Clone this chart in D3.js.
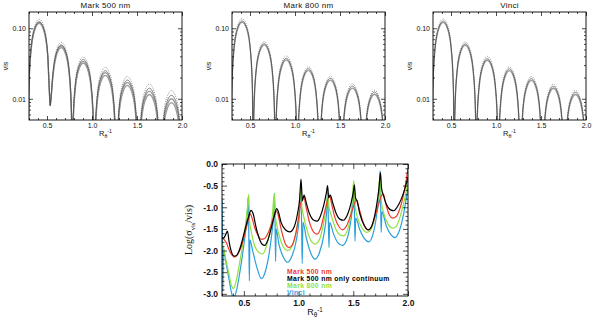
<!DOCTYPE html>
<html><head><meta charset="utf-8">
<script src="https://cdn.jsdelivr.net/npm/d3@7"></script>
<style>body{margin:0;background:#fff}svg{display:block}</style>
</head><body>
<svg id="c" width="600" height="319"></svg>
<script>
// ---------- DATA ----------
const panelTitles = ["Mark 500 nm", "Mark 800 nm", "Vinci"];
const topXTicks = [0.5, 1.0, 1.5, 2.0];
const topXTickLabels = ["0.5", "1.0", "1.5", "2.0"];
const topYTicks = [0.01, 0.1];
const topYTickLabels = ["0.01", "0.10"];
const topYMinor = [0.006,0.007,0.008,0.009,0.02,0.03,0.04,0.05,0.06,0.07,0.08,0.09];
const xMinor = [0.3,0.4,0.6,0.7,0.8,0.9,1.1,1.2,1.3,1.4,1.6,1.7,1.8,1.9];

// spatial frequency samples of the visibility curves
const visX = [0.290,
 0.297,0.319,0.364,0.413,0.462,0.506,0.528, 0.535,
 0.542,0.564,0.609,0.658,0.707,0.751,0.773, 0.780,
 0.787,0.809,0.854,0.903,0.952,0.996,1.018, 1.025,
 1.032,1.054,1.099,1.148,1.197,1.241,1.263, 1.270,
 1.277,1.299,1.344,1.393,1.442,1.486,1.508, 1.515,
 1.522,1.544,1.589,1.638,1.687,1.731,1.753, 1.760,
 1.767,1.789,1.834,1.883,1.932,1.976,1.998, 2.005];

// Mark 500 nm
const m500Dotted = [0.001,
 0.0126,0.0493,0.1084,0.134,0.1084,0.0493,0.0126, 0.008,
 0.0095,0.0232,0.0510,0.063,0.0510,0.0232,0.0059, 0.001,
 0.0037,0.0144,0.0316,0.039,0.0316,0.0144,0.0037, 0.001,
 0.0026,0.0103,0.0227,0.028,0.0227,0.0103,0.0026, 0.001,
 0.0019,0.0076,0.0167,0.0207,0.0167,0.0076,0.0019, 0.001,
 0.0015,0.0060,0.0131,0.0162,0.0131,0.0060,0.0015, 0.001,
 0.0012,0.0048,0.0106,0.0131,0.0106,0.0048,0.0012, 0.001];
const m500Solid = [0.001,
 0.0117,0.0456,0.1003,0.124,0.1003,0.0456,0.0117, 0.008,
 0.0095,0.0213,0.0469,0.058,0.0469,0.0213,0.0055, 0.001,
 0.0034,0.0132,0.0291,0.036,0.0291,0.0132,0.0034, 0.001,
 0.0024,0.0092,0.0202,0.025,0.0202,0.0092,0.0024, 0.001,
 0.0017,0.0068,0.0149,0.0184,0.0149,0.0068,0.0017, 0.001,
 0.0013,0.0052,0.0114,0.0141,0.0114,0.0052,0.0013, 0.001,
 0.0011,0.0041,0.0091,0.0112,0.0091,0.0041,0.0011, 0.001];
const m500GrayA = [0.001,
 0.0114,0.0445,0.0979,0.121,0.0979,0.0445,0.0114, 0.008,
 0.0094,0.0206,0.0453,0.056,0.0453,0.0206,0.0053, 0.001,
 0.0032,0.0125,0.0275,0.034,0.0275,0.0125,0.0032, 0.001,
 0.0022,0.0086,0.0190,0.0235,0.0190,0.0086,0.0022, 0.001,
 0.0016,0.0063,0.0138,0.0170,0.0138,0.0063,0.0016, 0.001,
 0.0012,0.0047,0.0104,0.0128,0.0104,0.0047,0.0012, 0.001,
 0.0009,0.0037,0.0081,0.0100,0.0081,0.0037,0.0009, 0.001];
const m500GrayB = [0.001,
 0.0110,0.0431,0.0947,0.117,0.0947,0.0431,0.0110, 0.008,
 0.0093,0.0195,0.0429,0.053,0.0429,0.0195,0.0050, 0.001,
 0.0030,0.0118,0.0259,0.032,0.0259,0.0118,0.0030, 0.001,
 0.0020,0.0079,0.0174,0.0215,0.0174,0.0079,0.0020, 0.001,
 0.0015,0.0057,0.0125,0.0155,0.0125,0.0057,0.0015, 0.001,
 0.0011,0.0042,0.0093,0.0115,0.0093,0.0042,0.0011, 0.001,
 0.0008,0.0032,0.0071,0.0088,0.0071,0.0032,0.0008, 0.001];

// Mark 800 nm
const m800Dotted = [0.001,
 0.0129,0.0504,0.1108,0.137,0.1108,0.0504,0.0129, 0.001,
 0.0061,0.0238,0.0523,0.0646,0.0523,0.0238,0.0061, 0.001,
 0.0038,0.0149,0.0327,0.0404,0.0327,0.0149,0.0038, 0.001,
 0.0027,0.0105,0.0231,0.0285,0.0231,0.0105,0.0027, 0.001,
 0.0020,0.0077,0.0168,0.0208,0.0168,0.0077,0.0020, 0.001,
 0.0015,0.0060,0.0131,0.0162,0.0131,0.0060,0.0015, 0.001,
 0.0012,0.0049,0.0107,0.0132,0.0107,0.0049,0.0012, 0.001];
const m800Solid = [0.001,
 0.0119,0.0467,0.1027,0.127,0.1027,0.0467,0.0119, 0.001,
 0.0057,0.0223,0.0489,0.0605,0.0489,0.0223,0.0057, 0.001,
 0.0035,0.0138,0.0303,0.0374,0.0303,0.0138,0.0035, 0.001,
 0.0025,0.0098,0.0216,0.0267,0.0216,0.0098,0.0025, 0.001,
 0.0018,0.0072,0.0158,0.0195,0.0158,0.0072,0.0018, 0.001,
 0.0014,0.0056,0.0122,0.0151,0.0122,0.0056,0.0014, 0.001,
 0.0012,0.0046,0.0100,0.0124,0.0100,0.0046,0.0012, 0.001];
const m800Gray = [0.001,
 0.0115,0.0449,0.0987,0.122,0.0987,0.0449,0.0115, 0.001,
 0.0055,0.0213,0.0469,0.058,0.0469,0.0213,0.0055, 0.001,
 0.0033,0.0131,0.0287,0.0355,0.0287,0.0131,0.0033, 0.001,
 0.0024,0.0093,0.0205,0.0253,0.0205,0.0093,0.0024, 0.001,
 0.0017,0.0068,0.0149,0.0184,0.0149,0.0068,0.0017, 0.001,
 0.0013,0.0052,0.0115,0.0142,0.0115,0.0052,0.0013, 0.001,
 0.0011,0.0043,0.0094,0.0116,0.0094,0.0043,0.0011, 0.001];

// Vinci
const vinciDotted = [0.001,
 0.0127,0.0497,0.1092,0.135,0.1092,0.0497,0.0127, 0.001,
 0.0060,0.0236,0.0518,0.064,0.0518,0.0236,0.0060, 0.001,
 0.0038,0.0147,0.0324,0.040,0.0324,0.0147,0.0038, 0.001,
 0.0027,0.0104,0.0229,0.0283,0.0229,0.0104,0.0027, 0.001,
 0.0019,0.0076,0.0167,0.0207,0.0167,0.0076,0.0019, 0.001,
 0.0015,0.0059,0.0130,0.0161,0.0130,0.0059,0.0015, 0.001,
 0.0012,0.0048,0.0106,0.0131,0.0106,0.0048,0.0012, 0.001];
const vinciSolid = [0.001,
 0.0118,0.0464,0.1019,0.126,0.1019,0.0464,0.0118, 0.001,
 0.0056,0.0221,0.0485,0.060,0.0485,0.0221,0.0056, 0.001,
 0.0035,0.0136,0.0299,0.037,0.0299,0.0136,0.0035, 0.001,
 0.0025,0.0098,0.0214,0.0265,0.0214,0.0098,0.0025, 0.001,
 0.0018,0.0071,0.0156,0.0193,0.0156,0.0071,0.0018, 0.001,
 0.0014,0.0055,0.0121,0.0150,0.0121,0.0055,0.0014, 0.001,
 0.0012,0.0045,0.0100,0.0123,0.0100,0.0045,0.0012, 0.001];
const vinciGray = [0.001,
 0.0114,0.0445,0.0979,0.121,0.0979,0.0445,0.0114, 0.001,
 0.0054,0.0212,0.0465,0.0575,0.0465,0.0212,0.0054, 0.001,
 0.0033,0.0130,0.0285,0.0352,0.0285,0.0130,0.0033, 0.001,
 0.0024,0.0092,0.0202,0.0250,0.0202,0.0092,0.0024, 0.001,
 0.0017,0.0067,0.0147,0.0182,0.0147,0.0067,0.0017, 0.001,
 0.0013,0.0052,0.0114,0.0141,0.0114,0.0052,0.0013, 0.001,
 0.0011,0.0042,0.0093,0.0115,0.0093,0.0042,0.0011, 0.001];

// bottom panel: log(sigma_vis/vis)
const errYTicks = [-3.0,-2.5,-2.0,-1.5,-1.0,-0.5,0.0];
const errYTickLabels = ["-3.0","-2.5","-2.0","-1.5","-1.0","-0.5","0.0"];
const errYMinor = [-2.9,-2.8,-2.7,-2.6,-2.4,-2.3,-2.2,-2.1,-1.9,-1.8,-1.7,-1.6,-1.4,-1.3,-1.2,-1.1,-0.9,-0.8,-0.7,-0.6,-0.4,-0.3,-0.2,-0.1];
const legendLabels = ["Mark 500 nm", "Mark 500 nm only continuum", "Mark 800 nm", "Vinci"];

const errMark500 = [[0.300,-1.70],[0.320,-1.75],[0.340,-1.82],[0.360,-1.95],[0.390,-2.10],[0.415,-2.15],[0.440,-2.10],[0.470,-1.95],[0.500,-1.70],[0.525,-1.45],[0.545,-1.25],[0.560,-1.15],[0.575,-1.25],[0.600,-1.48],[0.630,-1.65],[0.660,-1.74],[0.690,-1.72],[0.720,-1.60],[0.750,-1.40],[0.775,-1.20],[0.795,-1.08],[0.810,-1.15],[0.840,-1.50],[0.880,-1.85],[0.910,-1.93],[0.940,-1.88],[0.970,-1.65],[1.000,-1.25],[1.020,-0.90],[1.035,-0.80],[1.048,-0.75],[1.065,-0.95],[1.100,-1.35],[1.140,-1.58],[1.170,-1.62],[1.200,-1.50],[1.230,-1.20],[1.260,-0.88],[1.283,-0.72],[1.300,-0.90],[1.330,-1.22],[1.370,-1.45],[1.400,-1.52],[1.440,-1.42],[1.480,-1.15],[1.510,-0.92],[1.530,-0.83],[1.550,-1.00],[1.590,-1.35],[1.630,-1.52],[1.660,-1.48],[1.700,-1.20],[1.735,-0.90],[1.760,-0.72],[1.775,-0.70],[1.795,-0.90],[1.830,-1.18],[1.860,-1.25],[1.890,-1.22],[1.930,-1.00],[1.960,-0.70],[1.985,-0.35],[2.000,-0.10]];
const errMark500Cont = [[0.300,-1.72],[0.320,-1.70],[0.335,-1.62],[0.350,-1.55],[0.365,-1.80],[0.385,-2.02],[0.410,-2.13],[0.430,-2.12],[0.460,-1.98],[0.490,-1.72],[0.520,-1.42],[0.545,-1.20],[0.565,-1.07],[0.585,-1.15],[0.610,-1.45],[0.640,-1.72],[0.670,-1.86],[0.690,-1.88],[0.720,-1.75],[0.750,-1.48],[0.780,-1.18],[0.800,-1.03],[0.815,-1.10],[0.840,-1.35],[0.880,-1.52],[0.920,-1.57],[0.960,-1.45],[0.990,-1.15],[1.010,-0.80],[1.022,-0.35],[1.035,-0.85],[1.050,-0.72],[1.070,-0.90],[1.100,-1.15],[1.140,-1.30],[1.170,-1.32],[1.200,-1.20],[1.230,-0.95],[1.255,-0.65],[1.265,-0.50],[1.275,-0.78],[1.290,-0.72],[1.310,-0.88],[1.340,-1.12],[1.380,-1.28],[1.410,-1.30],[1.450,-1.15],[1.480,-0.90],[1.500,-0.65],[1.510,-0.48],[1.520,-0.78],[1.535,-0.86],[1.560,-1.15],[1.600,-1.42],[1.640,-1.52],[1.680,-1.35],[1.710,-1.00],[1.735,-0.55],[1.748,-0.20],[1.758,-0.55],[1.775,-0.72],[1.800,-0.92],[1.840,-1.06],[1.870,-1.08],[1.900,-1.00],[1.940,-0.80],[1.970,-0.58],[1.990,-0.40],[2.000,-0.30]];
const errMark800 = [[0.300,-1.85],[0.310,-1.90],[0.330,-2.15],[0.360,-2.50],[0.385,-2.80],[0.405,-2.88],[0.430,-2.70],[0.460,-2.30],[0.490,-1.85],[0.515,-1.40],[0.535,-0.95],[0.545,-0.70],[0.552,-1.30],[0.570,-1.60],[0.600,-1.90],[0.640,-2.05],[0.670,-2.08],[0.700,-1.95],[0.730,-1.65],[0.760,-1.20],[0.778,-0.68],[0.785,-1.15],[0.800,-1.40],[0.830,-1.72],[0.870,-1.95],[0.900,-2.00],[0.940,-1.90],[0.980,-1.55],[1.005,-1.10],[1.022,-0.55],[1.030,-1.00],[1.045,-1.20],[1.080,-1.55],[1.120,-1.80],[1.150,-1.85],[1.190,-1.75],[1.230,-1.35],[1.258,-0.90],[1.268,-0.68],[1.275,-0.95],[1.300,-1.20],[1.340,-1.50],[1.380,-1.64],[1.410,-1.66],[1.450,-1.50],[1.485,-1.00],[1.505,-0.38],[1.515,-0.95],[1.540,-1.25],[1.580,-1.48],[1.620,-1.58],[1.650,-1.55],[1.690,-1.30],[1.725,-0.85],[1.745,-0.25],[1.755,-0.85],[1.780,-1.15],[1.820,-1.40],[1.860,-1.48],[1.890,-1.45],[1.930,-1.20],[1.970,-0.80],[2.000,-0.40]];
const errVinci = [[0.300,-0.80],[0.304,-1.60],[0.308,-2.95],[0.313,-1.95],[0.330,-2.20],[0.360,-2.60],[0.385,-2.95],[0.405,-3.10],[0.430,-2.95],[0.460,-2.55],[0.490,-2.05],[0.515,-1.55],[0.532,-1.10],[0.540,-0.76],[0.545,-1.60],[0.550,-2.70],[0.555,-1.75],[0.580,-2.00],[0.620,-2.40],[0.660,-2.65],[0.700,-2.45],[0.735,-2.00],[0.760,-1.50],[0.775,-1.05],[0.780,-0.68],[0.785,-1.40],[0.790,-2.25],[0.795,-1.50],[0.820,-1.85],[0.860,-2.15],[0.900,-2.27],[0.940,-2.12],[0.980,-1.75],[1.005,-1.25],[1.020,-0.55],[1.027,-1.30],[1.033,-2.30],[1.040,-1.35],[1.070,-1.70],[1.110,-2.05],[1.150,-2.20],[1.190,-2.05],[1.230,-1.65],[1.255,-1.15],[1.266,-0.65],[1.272,-1.30],[1.278,-1.93],[1.284,-1.35],[1.320,-1.62],[1.360,-1.82],[1.400,-1.88],[1.440,-1.75],[1.475,-1.35],[1.500,-0.80],[1.506,-0.55],[1.511,-1.20],[1.516,-1.78],[1.522,-1.25],[1.560,-1.52],[1.600,-1.72],[1.640,-1.80],[1.680,-1.62],[1.715,-1.15],[1.738,-0.60],[1.745,-0.15],[1.750,-0.90],[1.755,-1.58],[1.762,-1.10],[1.800,-1.42],[1.840,-1.62],[1.880,-1.70],[1.920,-1.55],[1.960,-1.15],[1.990,-0.70],[2.000,-0.55]];

// ---------- DRAWING ----------
const svg = d3.select("#c");
const FONT = "'Liberation Sans', Arial, sans-serif";

function styleAxis(g, size, weight) {
  g.select(".domain").remove();
  g.selectAll("line").attr("stroke", "#000").attr("stroke-width", 0.7);
  g.selectAll("text").attr("font-family", FONT).attr("font-size", size)
    .attr("font-weight", weight || "normal").attr("fill", "#111");
}

function frameAxes(g, x, y, o) {
  const [x0, x1] = x.range(), [yb, yt] = y.range();
  g.append("g").attr("transform", `translate(0,${yb})`)
    .call(d3.axisBottom(x).tickValues(o.xt).tickSize(-o.maj).tickPadding(o.pad).tickFormat((d, i) => o.xl[i]))
    .call(s => styleAxis(s, o.fs, o.fw));
  g.append("g").attr("transform", `translate(0,${yb})`)
    .call(d3.axisBottom(x).tickValues(o.xm).tickSize(-o.min).tickFormat(""))
    .call(s => styleAxis(s, o.fs));
  g.append("g").attr("transform", `translate(0,${yt})`)
    .call(d3.axisTop(x).tickValues(o.xt).tickSize(-o.maj).tickFormat(""))
    .call(s => styleAxis(s, o.fs));
  g.append("g").attr("transform", `translate(0,${yt})`)
    .call(d3.axisTop(x).tickValues(o.xm).tickSize(-o.min).tickFormat(""))
    .call(s => styleAxis(s, o.fs));
  g.append("g").attr("transform", `translate(${x0},0)`)
    .call(d3.axisLeft(y).tickValues(o.yt).tickSize(-o.maj).tickPadding(o.pad).tickFormat((d, i) => o.yl[i]))
    .call(s => styleAxis(s, o.fs, o.fw));
  g.append("g").attr("transform", `translate(${x0},0)`)
    .call(d3.axisLeft(y).tickValues(o.ym).tickSize(-o.min).tickFormat(""))
    .call(s => styleAxis(s, o.fs));
  g.append("g").attr("transform", `translate(${x1},0)`)
    .call(d3.axisRight(y).tickValues(o.yt).tickSize(-o.maj).tickFormat(""))
    .call(s => styleAxis(s, o.fs));
  g.append("g").attr("transform", `translate(${x1},0)`)
    .call(d3.axisRight(y).tickValues(o.ym).tickSize(-o.min).tickFormat(""))
    .call(s => styleAxis(s, o.fs));
  g.append("rect").attr("x", x0).attr("y", yt).attr("width", x1 - x0).attr("height", yb - yt)
    .attr("fill", "none").attr("stroke", "#000").attr("stroke-width", 0.9);
}

function rLabel(g, cx, y, fs) {
  const t = g.append("text").attr("x", cx).attr("y", y).attr("text-anchor", "middle")
    .attr("font-family", FONT).attr("font-size", fs).attr("fill", "#111");
  t.append("tspan").text("R");
  t.append("tspan").attr("font-size", fs * 0.7).attr("dy", fs * 0.25).text("θ");
  t.append("tspan").attr("font-size", fs * 0.7).attr("dy", -fs * 0.6).text("-1");
}

const topPanels = [
  {left: 29, title: panelTitles[0], gray: [m500GrayB, m500GrayA], solid: m500Solid, dotted: m500Dotted},
  {left: 232, title: panelTitles[1], gray: [m800Gray], solid: m800Solid, dotted: m800Dotted},
  {left: 433, title: panelTitles[2], gray: [vinciGray], solid: vinciSolid, dotted: vinciDotted}
];
const TW = 153, TT = 12, TB = 120;

topPanels.forEach((p, pi) => {
  const g = svg.append("g");
  const x = d3.scaleLinear().domain([0.3, 2.0]).range([p.left, p.left + TW]);
  const y = d3.scaleLog().domain([0.005, 0.17]).range([TB, TT]);
  const cid = "clipTop" + pi;
  svg.append("clipPath").attr("id", cid).append("rect")
    .attr("x", p.left).attr("y", TT).attr("width", TW).attr("height", TB - TT);
  const line = d3.line().x((d, i) => x(visX[i])).y(d => y(d)).curve(d3.curveMonotoneX);
  const pg = g.append("g").attr("clip-path", `url(#${cid})`);
  p.gray.forEach(arr => pg.append("path").datum(arr).attr("d", line)
    .attr("fill", "none").attr("stroke", "#9a9a9a").attr("stroke-width", 1.3));
  pg.append("path").datum(p.solid).attr("d", line)
    .attr("fill", "none").attr("stroke", "#333").attr("stroke-width", 0.6);
  pg.append("path").datum(p.dotted).attr("d", line)
    .attr("fill", "none").attr("stroke", "#444").attr("stroke-width", 0.6).attr("stroke-dasharray", "1,1.3");
  frameAxes(g, x, y, {xt: topXTicks, xl: topXTickLabels, xm: xMinor, yt: topYTicks, yl: topYTickLabels,
    ym: topYMinor, maj: 4, min: 2, pad: 3, fs: 7});
  g.append("text").attr("x", p.left + TW / 2).attr("y", 8).attr("text-anchor", "middle")
    .attr("font-family", FONT).attr("font-size", 8).attr("letter-spacing", 0.3).attr("fill", "#111").text(p.title);
  g.append("text").attr("transform", `translate(${p.left - 21},${(TT + TB) / 2}) rotate(-90)`)
    .attr("text-anchor", "middle").attr("font-family", FONT).attr("font-size", 7).attr("fill", "#111").text("vis");
  rLabel(g, p.left + TW / 2, 136, 7.5);
});

{
  const L = 222, R = 408, T = 164, B = 296;
  const g = svg.append("g");
  const x = d3.scaleLinear().domain([0.3, 2.0]).range([L, R]);
  const y = d3.scaleLinear().domain([-3.05, 0.0]).range([B, T]);
  svg.append("clipPath").attr("id", "clipBot").append("rect")
    .attr("x", L).attr("y", T).attr("width", R - L).attr("height", B - T);
  const line = d3.line().x(d => x(d[0])).y(d => y(d[1])).curve(d3.curveMonotoneX);
  const pg = g.append("g").attr("clip-path", "url(#clipBot)");
  const series = [
    {data: errVinci, color: "#2b9fdc"},
    {data: errMark800, color: "#8ee23c"},
    {data: errMark500, color: "#f03a2a"},
    {data: errMark500Cont, color: "#000000"}
  ];
  series.forEach(s => pg.append("path").datum(s.data).attr("d", line)
    .attr("fill", "none").attr("stroke", s.color).attr("stroke-width", 1.2).attr("stroke-linejoin", "round"));
  frameAxes(g, x, y, {xt: topXTicks, xl: topXTickLabels, xm: xMinor, yt: errYTicks, yl: errYTickLabels,
    ym: errYMinor, maj: 5, min: 2.5, pad: 4, fs: 8.5, fw: "bold"});
  const legColors = ["#f03a2a", "#000000", "#8ee23c", "#2b9fdc"];
  legendLabels.forEach((t, i) => g.append("text").attr("x", 287).attr("y", 273.5 + i * 7)
    .attr("font-family", FONT).attr("font-size", 6.8).attr("font-weight", "bold").attr("letter-spacing", 0.35)
    .attr("fill", legColors[i]).text(t));
  rLabel(g, (L + R) / 2, 315, 9);
  const yt = g.append("text").attr("transform", `translate(${L - 30},${(T + B) / 2}) rotate(-90)`)
    .attr("text-anchor", "middle").attr("font-family", "'Liberation Serif', 'Times New Roman', serif")
    .attr("font-size", 10).attr("fill", "#111");
  yt.append("tspan").text("Log(σ");
  yt.append("tspan").attr("font-size", 6.5).attr("dy", 2.5).text("vis");
  yt.append("tspan").attr("dy", -2.5).text("/vis)");
}
</script>
</body></html>
